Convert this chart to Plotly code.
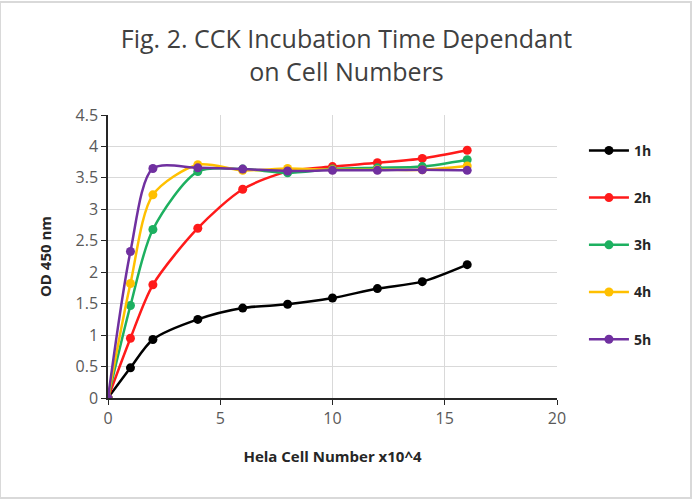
import plotly.graph_objects as go

x_vals = [0, 1, 2, 4, 6, 8, 10, 12, 14, 16]
series_names = ["1h", "2h", "3h", "4h", "5h"]
od_1h = [0, 0.48, 0.93, 1.25, 1.43, 1.49, 1.59, 1.74, 1.85, 2.12]
od_2h = [0, 0.95, 1.80, 2.70, 3.32, 3.60, 3.68, 3.74, 3.81, 3.94]
od_3h = [0, 1.47, 2.68, 3.60, 3.64, 3.58, 3.64, 3.66, 3.68, 3.79]
od_4h = [0, 1.82, 3.23, 3.71, 3.62, 3.65, 3.63, 3.63, 3.63, 3.69]
od_5h = [0, 2.33, 3.65, 3.66, 3.64, 3.61, 3.62, 3.62, 3.63, 3.62]
colors = ["#000000", "#FF1A1A", "#1DB060", "#FFC000", "#7030A0"]

all_series = [od_1h, od_2h, od_3h, od_4h, od_5h]

fig = go.Figure()
for i, (name, ys, c) in enumerate(zip(series_names, all_series, colors)):
    fig.add_trace(go.Scatter(
        x=x_vals, y=ys, name=name, mode="lines+markers",
        line=dict(color=c, width=2.5, shape="spline", smoothing=0.8),
        marker=dict(color=c, size=9),
        legendgroup="g%d" % i,
    ))

font_family = "Open Sans, Liberation Sans, sans-serif"
fig.update_layout(
    width=693, height=500,
    paper_bgcolor="white", plot_bgcolor="white",
    margin=dict(l=108, r=136, t=115, b=102),
    title=dict(
        text="Fig. 2. CCK Incubation Time Dependant<br>on Cell Numbers",
        x=0.5, xanchor="center", xref="container", yref="container",
        y=1 - 48 / 500, yanchor="top",
        font=dict(family=font_family, size=25, color="#404040"),
    ),
    font=dict(family=font_family, color="#595959"),
    legend=dict(
        x=1.06, xanchor="left", y=0.93, yanchor="top",
        traceorder="grouped", tracegroupgap=26,
        font=dict(family=font_family, size=14, color="#262626", weight="bold"),
        itemwidth=40,
    ),
    xaxis=dict(
        range=[0, 20], dtick=5, tick0=0,
        showgrid=True, gridcolor="#D9D9D9", gridwidth=1,
        showline=True, linecolor="#262626", linewidth=1.5,
        ticks="outside", ticklen=5, tickcolor="#262626",
        tickfont=dict(size=16, color="#595959"),
        zeroline=False,
        title=dict(text="Hela Cell Number x10^4", standoff=24,
                   font=dict(size=15, color="#262626", weight="bold")),
    ),
    yaxis=dict(
        range=[0, 4.5], dtick=0.5, tick0=0,
        showgrid=True, gridcolor="#D9D9D9", gridwidth=1,
        showline=True, linecolor="#262626", linewidth=1.5,
        ticks="outside", ticklen=5, tickcolor="#262626",
        tickfont=dict(size=16, color="#595959"),
        zeroline=False,
        title=dict(text="OD 450 nm", standoff=20,
                   font=dict(size=15, color="#262626", weight="bold")),
    ),
    shapes=[dict(type="rect", xref="paper", yref="paper",
                 x0=-108/449, x1=1 + 134/449, y0=-100/283, y1=1 + 113/283,
                 line=dict(color="#D9D9D9", width=2), fillcolor="rgba(0,0,0,0)")],
)

fig.write_html("out.html")
